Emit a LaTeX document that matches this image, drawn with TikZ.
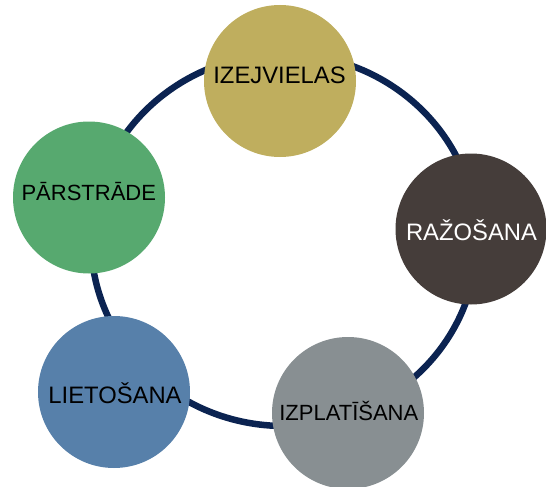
\documentclass[tikz,border=0pt]{standalone}
\usepackage{fontspec}
\setmainfont{Liberation Sans}
\definecolor{ringc}{HTML}{0B2351}
\definecolor{cgold}{HTML}{BFAE5E}
\definecolor{cbrown}{HTML}{453D3A}
\definecolor{cgray}{HTML}{888F92}
\definecolor{cblue}{HTML}{5780AA}
\definecolor{cgreen}{HTML}{57A96F}
\begin{document}
\begin{tikzpicture}[x=1pt,y=-1pt,
  ring/.style={draw=ringc, line width=6.5pt},
  disc/.style={circle, minimum size=152pt, inner sep=0pt, draw=none},
  lbl/.style={anchor=base, inner sep=0pt, font=\fontsize{23.8}{28}\selectfont},
  lblsmall/.style={lbl, font=\fontsize{22}{26}\selectfont}]
\useasboundingbox (0,0) rectangle (546,487);
\coordinate (rc) at (284,240);
\draw[ring] (rc) ellipse [x radius=193pt, y radius=186pt];
\node[disc, fill=cgold]  (izej) at (280,81) {};
\node[disc, fill=cbrown, minimum size=151pt] (raz) at (471,229) {};
\node[disc, fill=cgray]  (izpl) at (348,413) {};
\node[disc, fill=cblue]  (liet) at (114,392) {};
\node[disc, fill=cgreen] (pars) at (89,197.5) {};
\node[lbl] (tizej) at (279.5,83.3) {IZEJVIELAS};
\node[lbl, text=white] (traz) at (471.5,240) {RAŽOŠANA};
\node[lblsmall] (tizpl) at (348.8,420) {IZPLATĪŠANA};
\node[lbl] (tliet) at (115,403.3) {LIETOŠANA};
\node[lblsmall] (tpars) at (88.8,200) {PĀRSTRĀDE};
\end{tikzpicture}
\end{document}
